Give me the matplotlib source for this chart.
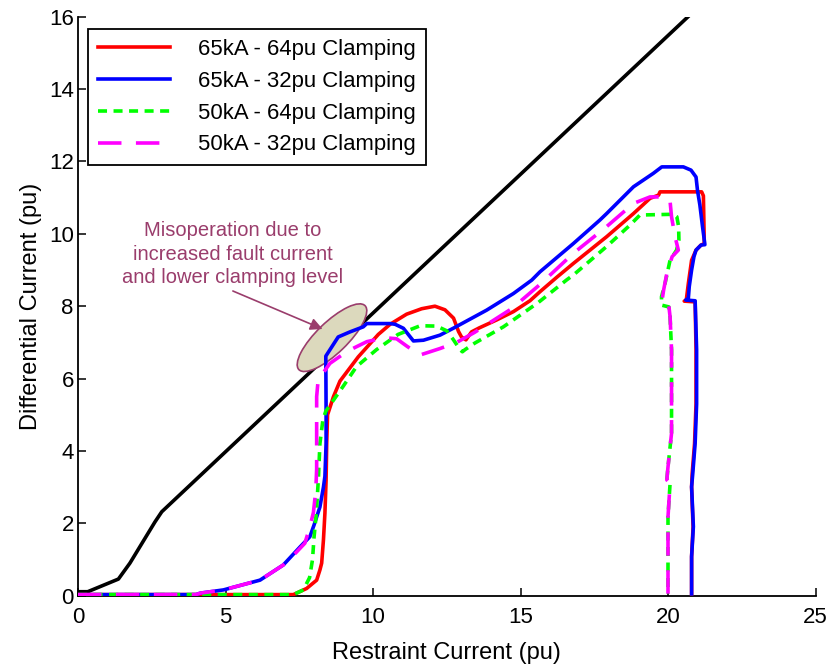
import matplotlib
matplotlib.use("Agg")
import matplotlib.pyplot as plt
from matplotlib.patches import Ellipse
from matplotlib.transforms import ScaledTranslation

plt.rcParams['font.family'] = ['Liberation Sans', 'DejaVu Sans']

# ---------------- data ----------------
ref_x = [0.0, 0.33, 1.37, 1.76, 2.61, 2.84, 20.68]
ref_y = [0.11, 0.11, 0.46, 0.90, 2.04, 2.32, 16.0]

red_x = [0.0, 4.0, 7.3, 7.75, 8.09, 8.2, 8.26, 8.32, 8.37, 8.41, 8.43, 8.46, 8.66, 8.88, 9.5, 10.18,
         10.58, 11.14, 11.65, 12.1, 12.44, 12.73, 12.9, 13.0, 13.15, 13.34, 13.6, 14.19, 14.76, 15.32,
         15.66, 16.23, 16.79, 17.92, 18.83, 19.39, 19.68, 19.73, 20.75, 21.14, 21.2, 21.23, 21.12, 20.95,
         20.8, 20.69, 20.62, 20.55, 20.92, 20.95, 20.95, 20.9, 20.82, 20.8, 20.85, 20.8, 20.8]
red_y = [0.03, 0.03, 0.03, 0.2, 0.43, 0.71, 0.9, 1.54, 2.28, 3.2, 4.2, 5.0, 5.5, 5.93, 6.6, 7.22,
         7.5, 7.78, 7.93, 8.0, 7.9, 7.67, 7.3, 7.15, 7.07, 7.29, 7.4, 7.62, 7.85, 8.15,
         8.4, 8.8, 9.18, 9.92, 10.56, 10.98, 11.07, 11.16, 11.16, 11.16, 11.05, 9.73, 9.69, 9.55,
         9.27, 8.63, 8.17, 8.14, 8.12, 6.8, 5.3, 4.2, 3.38, 3.0, 1.9, 1.08, 0.05]

blue_x = [0.0, 4.0, 4.14, 4.93, 6.17, 6.96, 7.53, 7.86, 8.0, 8.2, 8.32, 8.37, 8.41, 8.41, 8.4, 8.82,
          9.22, 9.67, 9.79, 10.58, 10.75, 11.03, 11.37, 11.71, 12.27, 12.72, 13.85, 14.76, 15.38,
          15.66, 16.79, 17.69, 17.92, 18.83, 19.5, 19.79, 20.52, 20.78, 20.95, 21.0, 21.08, 21.17, 21.23,
          21.25, 21.12, 20.95, 20.88, 20.8, 20.72, 20.69, 20.6, 20.92, 20.97, 20.97, 20.92, 20.84, 20.8,
          20.86, 20.8, 20.8]
blue_y = [0.03, 0.03, 0.07, 0.16, 0.43, 0.85, 1.35, 1.63, 1.95, 2.45, 3.0, 3.3, 4.2, 5.13, 6.62, 7.15,
          7.29, 7.43, 7.52, 7.52, 7.5, 7.39, 7.04, 7.06, 7.2, 7.39, 7.89, 8.35, 8.72,
          8.95, 9.73, 10.38, 10.56, 11.3, 11.67, 11.85, 11.85, 11.76, 11.57, 11.2, 10.8, 10.2, 9.83,
          9.7, 9.69, 9.55, 9.37, 9.0, 8.54, 8.22, 8.17, 8.15, 6.8, 5.3, 4.21, 3.38, 3.01,
          1.91, 1.08, 0.05]

green_x = [0.0, 7.3, 7.64, 7.85, 7.95, 8.0, 8.08, 8.15, 8.2, 8.3, 8.4, 9.0, 9.44, 10.12, 10.85, 11.6,
           12.16, 12.5, 12.72, 12.95, 13.03, 13.12, 13.45, 14.42, 15.6, 16.57, 16.79, 17.92, 18.71, 19.05,
           20.18, 20.3, 20.36, 20.37, 20.29, 20.07, 19.9, 19.78, 19.78, 20.03, 20.07, 20.12, 20.12, 20.0,
           19.96, 20.07, 20.0, 20.0]
green_y = [0.03, 0.03, 0.16, 0.5, 1.0, 1.6, 2.3, 3.25, 4.2, 4.85, 5.1, 5.8, 6.33, 6.8, 7.22, 7.46,
           7.45, 7.32, 7.08, 6.8, 6.74, 6.8, 6.98, 7.43, 8.1, 8.73, 8.86, 9.65, 10.24, 10.52,
           10.54, 10.47, 10.2, 9.83, 9.55, 9.27, 8.63, 8.26, 8.03, 7.98, 7.71, 6.79, 4.49, 3.56,
           3.2, 3.1, 2.18, 0.05]

mag_x = [0.0, 4.0, 4.14, 4.93, 6.17, 6.96, 7.4, 7.69, 7.86, 7.98, 8.06, 8.09, 8.09, 8.09, 8.14, 8.54,
         9.1, 9.44, 9.79, 10.4, 10.8, 11.14, 11.59, 12.27, 12.84, 13.45, 14.7, 15.66, 16.79, 17.92,
         18.83, 19.39, 19.9, 20.07, 20.12, 20.24, 20.35, 20.14, 19.96, 19.85, 19.78, 20.03, 20.07, 20.12,
         20.12, 20.0, 19.96, 20.07, 20.0, 20.0]
mag_y = [0.03, 0.03, 0.07, 0.16, 0.43, 0.85, 1.2, 1.45, 1.9, 2.3, 2.9, 3.5, 4.2, 5.5, 5.96, 6.42,
         6.74, 6.88, 7.02, 7.13, 7.1, 6.9, 6.65, 6.83, 7.0, 7.28, 7.93, 8.6, 9.46, 10.2,
         10.84, 11.02, 11.02, 10.9, 10.47, 9.92, 9.55, 9.37, 8.9, 8.44, 8.06, 8.0, 7.71, 6.79,
         4.49, 3.56, 3.2, 3.1, 2.18, 0.05]

labels = ['65kA - 64pu Clamping', '65kA - 32pu Clamping', '50kA - 64pu Clamping', '50kA - 32pu Clamping']
x_ticks = [0, 5, 10, 15, 20, 25]
y_ticks = [0, 2, 4, 6, 8, 10, 12, 14, 16]

# ---------------- figure ----------------
fig = plt.figure(figsize=(8.34, 6.66), dpi=100)
ax = fig.add_axes([78 / 834, (666 - 595.7) / 666, (815.5 - 78) / 834, (595.7 - 16.7) / 666])

lw = 2.6
ax.plot(ref_x, ref_y, color='black', lw=lw, zorder=2, solid_joinstyle='round')
ax.plot(red_x, red_y, color=(1, 0, 0), lw=lw, label=labels[0], zorder=4)
ax.plot(blue_x, blue_y, color=(0, 0, 1), lw=lw, label=labels[1], zorder=4)
ax.plot(green_x, green_y, color=(0, 1, 0), lw=lw, ls=(0, (2.5, 1.8)), label=labels[2], zorder=4)
ax.plot(mag_x, mag_y, color=(1, 0, 1), lw=lw, ls=(0, (6.5, 4.0)), label=labels[3], zorder=4)

# annotation ellipse & text
ann_col = '#9a3d6c'
cx, cy = 8.61, 7.13
trans = fig.dpi_scale_trans + ScaledTranslation(cx, cy, ax.transData)
ell = Ellipse((0, 0), width=0.92, height=0.31, angle=44, transform=trans,
              facecolor='#dcd9bd', edgecolor=ann_col, lw=1.2, zorder=3)
ax.add_patch(ell)
ax.annotate('', xy=(8.29, 7.37), xytext=(5.25, 8.42),
            arrowprops=dict(arrowstyle='-|>', color=ann_col, lw=1.2,
                            mutation_scale=18, shrinkA=0, shrinkB=0), zorder=5)
ax.text(5.25, 9.44, 'Misoperation due to\nincreased fault current\nand lower clamping level',
        color=ann_col, fontsize=14.5, ha='center', va='center', linespacing=1.32, zorder=5)

ax.set_xlim(0, 25)
ax.set_ylim(0, 16)
ax.set_xticks(x_ticks)
ax.set_yticks(y_ticks)
ax.tick_params(direction='in', length=6, width=1.1, labelsize=16)
ax.tick_params(axis='x', pad=8)
ax.tick_params(axis='y', pad=3)
for s in ['top', 'right']:
    ax.spines[s].set_visible(False)
for s in ['left', 'bottom']:
    ax.spines[s].set_linewidth(1.3)

ax.set_xlabel('Restraint Current (pu)', fontsize=17, labelpad=10)
ax.set_ylabel('Differential Current (pu)', fontsize=17, labelpad=5)

leg = ax.legend(loc='upper left', bbox_to_anchor=(88 / 834, 1 - 29 / 666),
                bbox_transform=fig.transFigure, borderaxespad=0, fontsize=15.9,
                fancybox=False, frameon=True, edgecolor='black', framealpha=1,
                handlelength=3.25, handletextpad=1.3, labelspacing=0.49, borderpad=0.45)
leg.get_frame().set_linewidth(1.3)

fig.savefig('out.png', dpi=100)
